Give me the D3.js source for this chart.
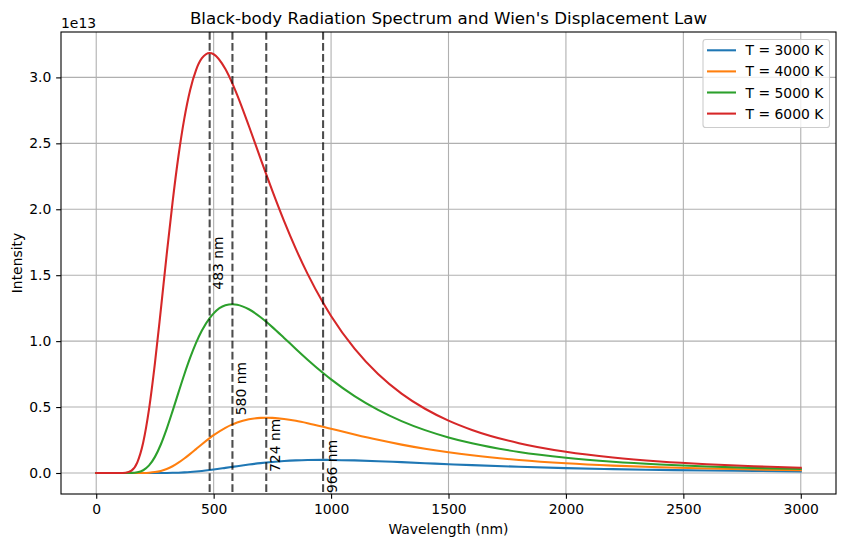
<!DOCTYPE html>
<html>
<head>
<meta charset="utf-8">
<script src="https://cdn.jsdelivr.net/npm/d3@7"></script>
<style>
  body { margin: 0; background: #fff; }
  svg { display: block; font-family: "DejaVu Sans", sans-serif; }
</style>
</head>
<body>
<svg id="chart" width="846" height="547"></svg>
<script>
// ---- Data (intensity in units of 1e13) ----
const wavelengths = [0, 100, 125, 150, 175, 200, 225, 250, 275, 300, 325, 350, 375, 400, 425, 450, 483, 500, 550, 580, 600, 650, 700, 724, 750, 800, 850, 900, 966, 1000, 1100, 1200, 1300, 1400, 1500, 1600, 1800, 2000, 2200, 2400, 2600, 2800, 3000];
const series3000 = [0, 0, 0, 0, 0, 0, 0, 0.00006, 0.0002, 0.0006, 0.0013, 0.0025, 0.0045, 0.0072, 0.0108, 0.0152, 0.0221, 0.0260, 0.0387, 0.0465, 0.0518, 0.0642, 0.0751, 0.0796, 0.0840, 0.0908, 0.0955, 0.0983, 0.0995, 0.0992, 0.0957, 0.0896, 0.0822, 0.0745, 0.0668, 0.0597, 0.0472, 0.0372, 0.0295, 0.0235, 0.0188, 0.0152, 0.0124];
const series4000 = [0, 0, 0, 0.00001, 0.0001, 0.0006, 0.0024, 0.0069, 0.0158, 0.0304, 0.0513, 0.0781, 0.1097, 0.1447, 0.1813, 0.2181, 0.2644, 0.2865, 0.3424, 0.3684, 0.3826, 0.4072, 0.4182, 0.4194, 0.4182, 0.4099, 0.3957, 0.3776, 0.3504, 0.3356, 0.2922, 0.2515, 0.2152, 0.1837, 0.1568, 0.1341, 0.0989, 0.0738, 0.0560, 0.0430, 0.0335, 0.0265, 0.0212];
const series5000 = [0, 0, 0.00004, 0.0007, 0.0052, 0.0210, 0.0577, 0.1223, 0.2162, 0.3347, 0.4692, 0.6097, 0.7472, 0.8743, 0.9863, 1.0801, 1.1747, 1.2107, 1.2713, 1.2799, 1.2763, 1.2415, 1.1812, 1.1465, 1.1062, 1.0242, 0.9409, 0.8595, 0.7586, 0.7102, 0.5831, 0.4786, 0.3937, 0.3252, 0.2700, 0.2253, 0.1597, 0.1157, 0.0856, 0.0646, 0.0495, 0.0386, 0.0305];
const series6000 = [0, 0.00005, 0.0018, 0.0179, 0.0812, 0.2310, 0.4856, 0.8328, 1.2369, 1.6560, 2.0530, 2.4019, 2.6876, 2.9050, 3.0557, 3.1455, 3.1850, 3.1758, 3.0634, 2.9529, 2.8676, 2.6313, 2.3825, 2.2642, 2.1388, 1.9095, 1.6995, 1.5098, 1.2907, 1.1909, 0.9425, 0.7506, 0.6023, 0.4873, 0.3975, 0.3268, 0.2260, 0.1607, 0.1171, 0.0872, 0.0662, 0.0511, 0.0400];
const seriesLabels = ["T = 3000 K", "T = 4000 K", "T = 5000 K", "T = 6000 K"];
const peakWavelengths = [966, 724, 580, 483];      // Wien peak per temperature (same order as series)
const peakLabels = ["966 nm", "724 nm", "580 nm", "483 nm"];
const xTicks = [0, 500, 1000, 1500, 2000, 2500, 3000];
const yTicks = [0.0, 0.5, 1.0, 1.5, 2.0, 2.5, 3.0];
const offsetLabel = "1e13";
const colors = ["#1f77b4", "#ff7f0e", "#2ca02c", "#d62728"];

const allSeries = [series3000, series4000, series5000, series6000];

// ---- Layout ----
const svg = d3.select("#chart");
const L = 61, T = 32, W = 775, H = 462;
const FS = 13.9;

const xMin = d3.min(wavelengths), xMax = d3.max(wavelengths);
const xPad = (xMax - xMin) * 0.05;
const yAllMax = d3.max(allSeries, s => d3.max(s));
const yAllMin = 0;
const yPad = (yAllMax - yAllMin) * 0.05;

const x = d3.scaleLinear().domain([xMin - xPad, xMax + xPad]).range([L, L + W]);
const y = d3.scaleLinear().domain([yAllMin - yPad, yAllMax + yPad]).range([T + H, T]);

const g = svg.append("g");

// Clip
svg.append("defs").append("clipPath").attr("id", "clip")
  .append("rect").attr("x", L).attr("y", T).attr("width", W).attr("height", H);

// Grid
g.append("g").selectAll("line").data(xTicks).join("line")
  .attr("x1", d => x(d)).attr("x2", d => x(d)).attr("y1", T).attr("y2", T + H)
  .attr("stroke", "#b0b0b0").attr("stroke-width", 1.1);
g.append("g").selectAll("line").data(yTicks).join("line")
  .attr("y1", d => y(d)).attr("y2", d => y(d)).attr("x1", L).attr("x2", L + W)
  .attr("stroke", "#b0b0b0").attr("stroke-width", 1.1);

// Curves
const plot = g.append("g").attr("clip-path", "url(#clip)");
const line = d3.line().x((d, i) => x(wavelengths[i])).y(d => y(d)).curve(d3.curveMonotoneX);
allSeries.forEach((s, k) => {
  plot.append("path").datum(s).attr("d", line)
    .attr("fill", "none").attr("stroke", colors[k]).attr("stroke-width", 2.08)
    .attr("stroke-linejoin", "round").attr("stroke-linecap", "square");
});

// Peak dashed lines
peakWavelengths.forEach((p, k) => {
  plot.append("line")
    .attr("x1", x(p)).attr("x2", x(p)).attr("y1", T).attr("y2", T + H)
    .attr("stroke", "#000").attr("stroke-opacity", 0.7).attr("stroke-width", 2.08)
    .attr("stroke-dasharray", "7.7,3.33");
});
// Peak labels (centered at half of the peak intensity)
peakWavelengths.forEach((p, k) => {
  const half = d3.max(allSeries[k]) / 2;
  g.append("text")
    .attr("transform", `translate(${x(p) + 0.5},${y(half)}) rotate(-90)`)
    .attr("text-anchor", "middle")
    .attr("dominant-baseline", "text-before-edge")
    .attr("font-size", FS).attr("fill", "#000")
    .text(peakLabels[k]);
});

// Axes
const xAxis = d3.axisBottom(x).tickValues(xTicks).tickFormat(d3.format("d")).tickSize(4.86).tickPadding(4.86);
const yAxis = d3.axisLeft(y).tickValues(yTicks).tickFormat(d3.format(".1f")).tickSize(4.86).tickPadding(4.86);
const gx = g.append("g").attr("transform", `translate(0,${T + H})`).call(xAxis);
const gy = g.append("g").attr("transform", `translate(${L},0)`).call(yAxis);
[gx, gy].forEach(a => {
  a.select(".domain").remove();
  a.selectAll(".tick line").attr("stroke", "#000").attr("stroke-width", 1.1);
  a.selectAll(".tick text").attr("font-size", FS).attr("fill", "#000").attr("font-family", "DejaVu Sans");
});
gx.selectAll(".tick text").attr("dy", "0.71em");

// Spines
g.append("rect").attr("x", L).attr("y", T).attr("width", W).attr("height", H)
  .attr("fill", "none").attr("stroke", "#000").attr("stroke-width", 1.1);

// Offset text
g.append("text").attr("x", L).attr("y", T - 4.5).attr("font-size", FS).attr("fill", "#000").text(offsetLabel);

// Title
g.append("text").attr("x", L + W / 2).attr("y", T - 8.5).attr("text-anchor", "middle")
  .attr("font-size", 16.67).attr("fill", "#000")
  .text("Black-body Radiation Spectrum and Wien's Displacement Law");

// Axis labels
g.append("text").attr("x", L + W / 2).attr("y", 534).attr("text-anchor", "middle")
  .attr("font-size", FS).attr("fill", "#000").text("Wavelength (nm)");
g.append("text").attr("transform", `translate(21.5,${T + H / 2}) rotate(-90)`).attr("text-anchor", "middle")
  .attr("font-size", FS).attr("fill", "#000").text("Intensity");

// Legend
const lgX = 703, lgY = 39.5, lgW = 126.5, lgH = 88;
const lg = g.append("g");
lg.append("rect").attr("x", lgX).attr("y", lgY).attr("width", lgW).attr("height", lgH)
  .attr("rx", 2.8).attr("fill", "#fff").attr("fill-opacity", 0.8)
  .attr("stroke", "#cccccc").attr("stroke-width", 1.1);
seriesLabels.forEach((lab, k) => {
  const cy = lgY + 10.8 + k * 21.1;
  lg.append("line").attr("x1", lgX + 4).attr("x2", lgX + 33).attr("y1", cy).attr("y2", cy)
    .attr("stroke", colors[k]).attr("stroke-width", 2.08);
  lg.append("text").attr("x", lgX + 42.5).attr("y", cy).attr("dominant-baseline", "central")
    .attr("font-size", FS).attr("fill", "#000").text(lab);
});
</script>
</body>
</html>
